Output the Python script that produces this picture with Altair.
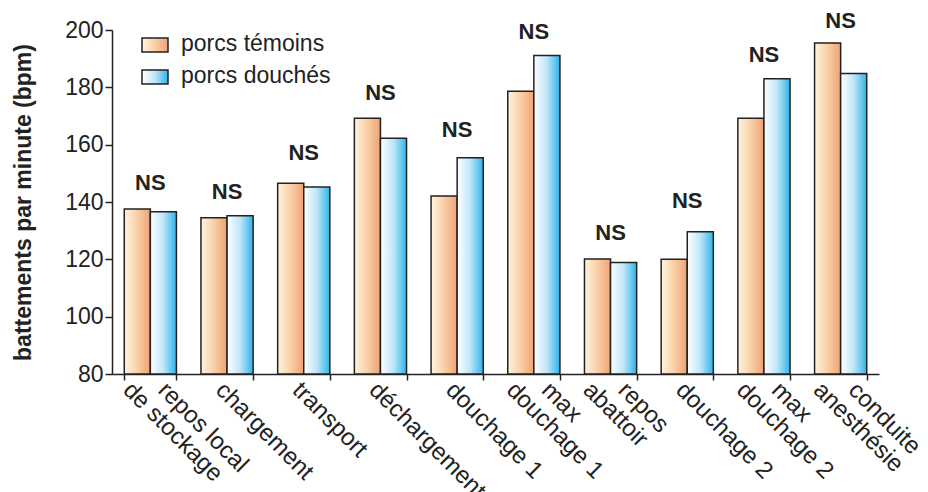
import altair as alt
import pandas as pd

# ---- data ----
categories = ["repos local de stockage", "chargement", "transport", "déchargement",
              "douchage 1", "max douchage 1", "repos abattoir", "douchage 2",
              "max douchage 2", "conduite anesthésie"]
label_top = ["repos local", "chargement", "transport", "déchargement", "douchage 1",
             "max", "repos", "douchage 2", "max", "conduite"]
label_bottom = ["de stockage", "", "", "", "", "douchage 1", "abattoir", "",
                "douchage 2", "anesthésie"]
series = ["porcs témoins", "porcs douchés"]
temoins = [137.6, 134.5, 146.5, 169.2, 142.1, 178.6, 120.1, 120.0, 169.2, 195.5]
douches = [136.6, 135.2, 145.2, 162.2, 155.4, 191.1, 118.9, 129.6, 183.0, 184.8]
ns_text = ["NS"] * 10
ns_y = [146.7, 143.6, 157.2, 178.1, 165.2, 199.4, 129.2, 140.4, 191.2, 203.2]
y_ticks = [80, 100, 120, 140, 160, 180, 200]

FONT = "Liberation Sans"
INK = "#222222"

bars_df = pd.DataFrame({
    "category": categories * 2,
    "series": [series[0]] * 10 + [series[1]] * 10,
    "value": temoins + douches,
})
ns_df = pd.DataFrame({"category": categories, "ns": ns_text, "ns_y": ns_y})
lab_df = pd.DataFrame({"category": categories, "top": label_top, "bottom": label_bottom})

grad_orange = alt.LinearGradient(
    gradient="linear", x1=0, x2=1, y1=0, y2=0,
    stops=[alt.GradientStop(offset=0, color="#fff4de"),
           alt.GradientStop(offset=0.5, color="#f9cfa6"),
           alt.GradientStop(offset=1, color="#efa274")])
grad_blue = alt.LinearGradient(
    gradient="linear", x1=0, x2=1, y1=0, y2=0,
    stops=[alt.GradientStop(offset=0, color="#ffffff"),
           alt.GradientStop(offset=0.5, color="#bfe6f8"),
           alt.GradientStop(offset=1, color="#2fb3ea")])
grads = [grad_orange, grad_blue]

x_enc = alt.X("category:N", sort=categories,
              scale=alt.Scale(domain=categories, paddingInner=0.32, paddingOuter=0.16),
              axis=alt.Axis(labels=False, title=None, tickBand="extent", tickSize=6,
                            domainColor=INK, tickColor=INK, domainWidth=1.5, tickWidth=1.5))
y_scale = alt.Scale(domain=[80, 200], zero=False, nice=False)
y_axis = alt.Axis(values=y_ticks, tickSize=7, labelFontSize=23, labelPadding=2,
                  labelColor=INK, labelFont=FONT, domainColor=INK, tickColor=INK,
                  domainWidth=1.5, tickWidth=1.5, grid=False,
                  title="battements par minute (bpm)", titleFont=FONT, titleFontSize=23,
                  titleFontWeight="bold", titleColor=INK, titleX=-89,
                  titleBaseline="middle")

bar_layers = []
for s, g in zip(series, grads):
    bar_layers.append(
        alt.Chart(bars_df).transform_filter(alt.datum.series == s)
        .mark_bar(fill=g, stroke=INK, strokeWidth=1.5)
        .encode(x=x_enc,
                xOffset=alt.XOffset("series:N", scale=alt.Scale(domain=series, paddingInner=0, paddingOuter=0)),
                y=alt.Y("value:Q", scale=y_scale, axis=y_axis),
                y2=alt.datum(80))
    )

ns_layer = alt.Chart(ns_df).mark_text(font=FONT, fontSize=22, fontWeight="bold",
                                      color=INK, baseline="middle").encode(
    x=alt.X("category:N", sort=categories),
    y=alt.Y("ns_y:Q", scale=y_scale),
    text="ns:N")

LAB_Y = 348
LAB_SIZE = 24
s1, s2, s3 = 1, 20, -15
k = 0.7071
lab_single = alt.Chart(lab_df).transform_filter(alt.datum.bottom == "").mark_text(
    font=FONT, fontSize=LAB_SIZE, color=INK, angle=45, align="left", baseline="top",
    dx=k * s1, dy=-k * s1).encode(
    x=alt.X("category:N", sort=categories), y=alt.value(LAB_Y), text="top:N")
lab_top = alt.Chart(lab_df).transform_filter(alt.datum.bottom != "").mark_text(
    font=FONT, fontSize=LAB_SIZE, color=INK, angle=45, align="left", baseline="top",
    dx=k * s2, dy=-k * s2).encode(
    x=alt.X("category:N", sort=categories), y=alt.value(LAB_Y), text="top:N")
lab_bot = alt.Chart(lab_df).transform_filter(alt.datum.bottom != "").mark_text(
    font=FONT, fontSize=LAB_SIZE, color=INK, angle=45, align="left", baseline="top",
    dx=k * s3, dy=-k * s3).encode(
    x=alt.X("category:N", sort=categories), y=alt.value(LAB_Y), text="bottom:N")

# legend (hand drawn, gradient swatches)
legend_layers = []
for i, (s, g) in enumerate(zip(series, grads)):
    ldf = pd.DataFrame({"series": [s]})
    y0 = 8 + 32 * i
    legend_layers.append(
        alt.Chart(ldf).mark_rect(fill=g, stroke=INK, strokeWidth=1.5).encode(
            x=alt.value(30), x2=alt.value(56), y=alt.value(y0), y2=alt.value(y0 + 14)))
    legend_layers.append(
        alt.Chart(ldf).mark_text(font=FONT, fontSize=23, color=INK, align="left",
                                 baseline="middle").encode(
            x=alt.value(69), y=alt.value(y0 + 6), text="series:N"))

chart = alt.layer(*bar_layers, ns_layer, lab_single, lab_top, lab_bot, *legend_layers).properties(
    width=767, height=344,
    autosize=alt.AutoSizeParams(type="none"),
    padding={"left": 104, "top": 22, "right": 41, "bottom": 118},
).configure(font=FONT).configure_view(stroke=None)

chart.save("out.html", embed_options={"renderer": "svg", "actions": False})
